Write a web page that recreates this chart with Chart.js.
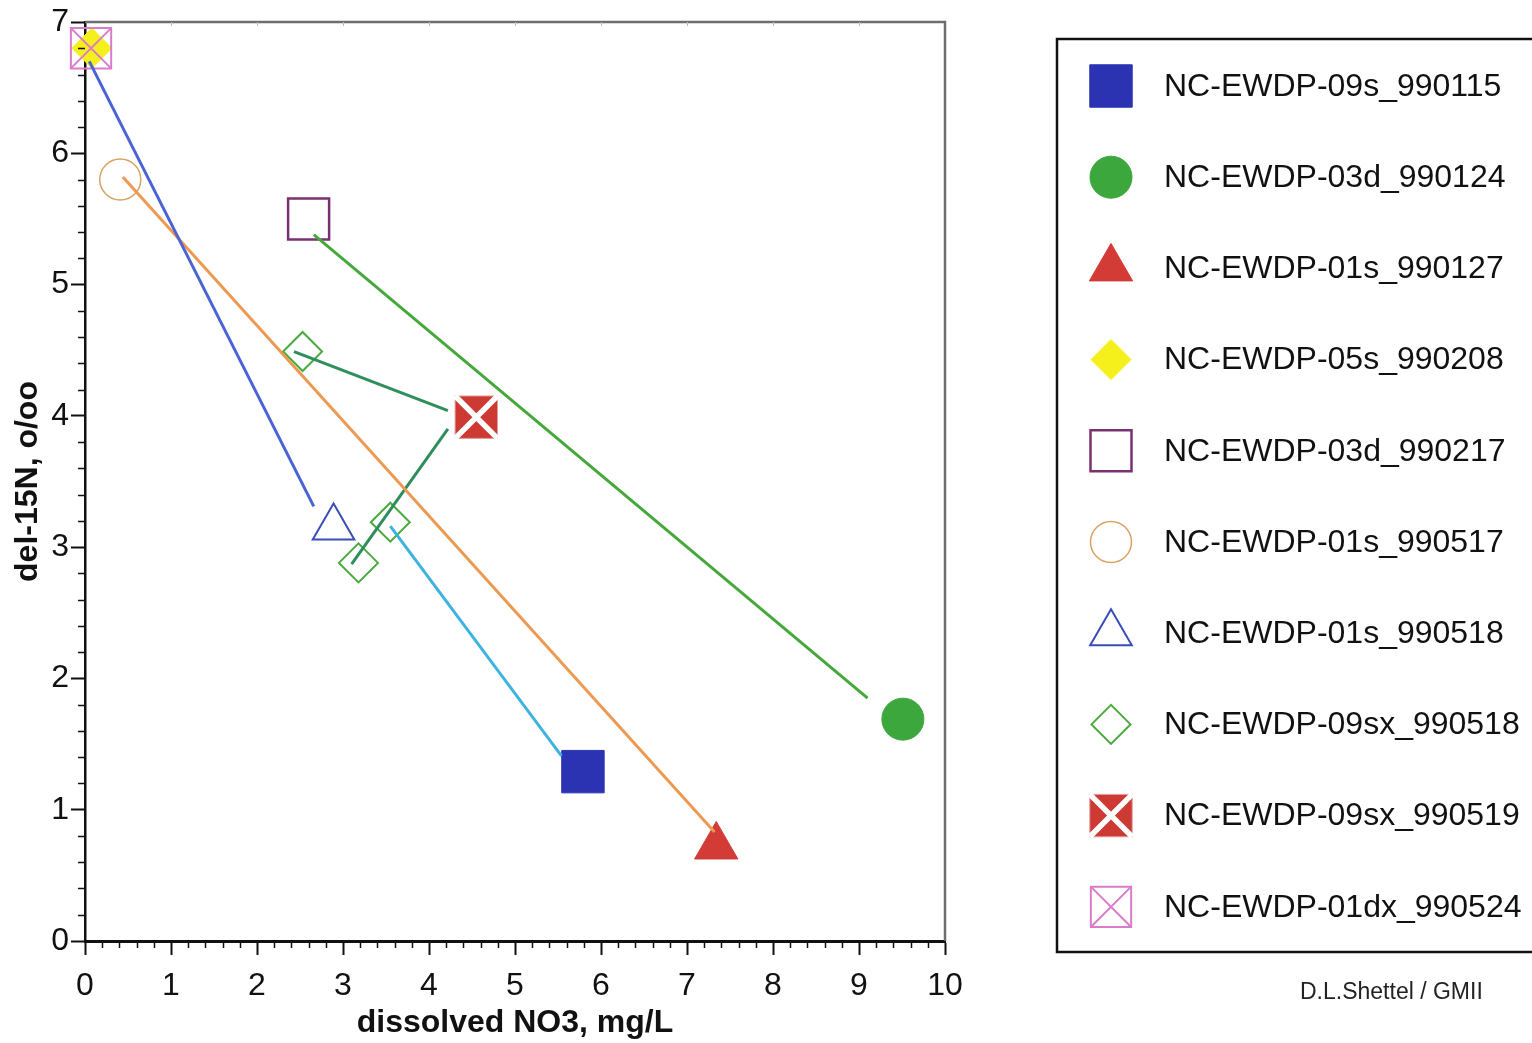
<!DOCTYPE html>
<html>
<head>
<meta charset="utf-8">
<script src="https://cdn.jsdelivr.net/npm/chart.js@4"></script>
<style>
  html, body { margin: 0; padding: 0; background: #fff; }
  #wrap { position: relative; width: 1532px; height: 1043px; }
</style>
</head>
<body>
<div id="wrap"><canvas id="no3Chart"></canvas></div>
<script>
// sample names, as in the legend
const seriesLabels = [
  'NC-EWDP-09s_990115',
  'NC-EWDP-03d_990124',
  'NC-EWDP-01s_990127',
  'NC-EWDP-05s_990208',
  'NC-EWDP-03d_990217',
  'NC-EWDP-01s_990517',
  'NC-EWDP-01s_990518',
  'NC-EWDP-09sx_990518',
  'NC-EWDP-09sx_990519',
  'NC-EWDP-01dx_990524'
];
// dissolved NO3, mg/L
const seriesNo3 = [[5.79], [9.51], [7.34], [0.08], [2.60], [0.41], [2.89], [2.53, 3.55, 3.18], [4.55], [0.07]];
// del-15N, o/oo
const seriesDel15N = [[1.29], [1.69], [0.72], [6.80], [5.50], [5.80], [3.15], [4.49, 3.19, 2.88], [3.99], [6.80]];

// connecting lines (start, end)
const lineNo3 = [[0.05, 2.66], [0.44, 7.32], [2.66, 9.10], [2.43, 4.22], [4.22, 3.10], [3.55, 5.54]];
const lineDel15N = [[6.70, 3.31], [5.82, 0.83], [5.38, 1.85], [4.49, 4.04], [3.90, 2.87], [3.16, 1.41]];
const lineColors = ['#4a63d6', '#ec9a52', '#45a83b', '#2f8e5c', '#2f8e5c', '#3fb3df'];

const markerStyles = [
  { style: 'rect', r: 30, fill: '#2c33b3', stroke: '#2c33b3', width: 1 },
  { style: 'circle', r: 21, fill: '#3ca73c', stroke: '#3ca73c', width: 1 },
  { style: 'triangle', r: 25, fill: '#d33b36', stroke: '#d33b36', width: 1 },
  { style: 'rectRot', r: 20, fill: '#f5f01c', stroke: '#f5f01c', width: 1, order: 3 },
  { style: 'rect', r: 29, fill: null, stroke: '#7a3170', width: 2.5 },
  { style: 'circle', r: 20.5, fill: null, stroke: '#d9a262', width: 1.5 },
  { style: 'triangle', r: 24, fill: null, stroke: '#3a4db5', width: 2 },
  { style: 'rectRot', r: 19.5, fill: null, stroke: '#4aaa3d', width: 2 },
  { style: 'rect', r: 30, fill: '#cc3a33', stroke: '#e2a09a', width: 1, cross: '#ffffff', crossWidth: 5.5 },
  { style: 'rect', r: 28.5, fill: null, stroke: '#d97ccb', width: 2, cross: '#d97ccb', crossWidth: 2 }
];

const FONT = '"Liberation Sans", Arial, Helvetica, sans-serif';
Chart.defaults.font.family = FONT;
Chart.defaults.color = '#111';

const datasets = [];
seriesLabels.forEach((label, i) => {
  const m = markerStyles[i];
  const pts = seriesNo3[i].map((x, k) => ({ x: x, y: seriesDel15N[i][k] }));
  datasets.push({
    label: label,
    data: pts,
    pointStyle: m.style,
    pointRadius: m.r,
    pointBackgroundColor: m.fill || 'rgba(0,0,0,0)',
    pointBorderColor: m.stroke,
    pointBorderWidth: m.width,
    clip: false,
    order: m.order || 2
  });
  if (m.cross) {
    datasets.push({
      label: label + ' x',
      data: pts,
      pointStyle: 'crossRot',
      pointRadius: m.r,
      pointBorderColor: m.cross,
      pointBorderWidth: m.crossWidth,
      clip: false,
      order: 1
    });
  }
});
lineNo3.forEach((xs, i) => {
  datasets.push({
    label: 'line ' + i,
    data: xs.map((x, k) => ({ x: x, y: lineDel15N[i][k] })),
    showLine: true,
    borderColor: lineColors[i],
    borderWidth: 3,
    pointRadius: 0,
    clip: false,
    order: 0
  });
});

function drawMarker(ctx, m, x, y) {
  ctx.fillStyle = m.fill || 'rgba(0,0,0,0)';
  ctx.strokeStyle = m.stroke;
  ctx.lineWidth = m.width;
  Chart.helpers.drawPoint(ctx, { pointStyle: m.style, radius: m.r, borderWidth: m.width, rotation: 0 }, x, y);
  if (m.cross) {
    ctx.strokeStyle = m.cross;
    ctx.lineWidth = m.crossWidth;
    Chart.helpers.drawPoint(ctx, { pointStyle: 'crossRot', radius: m.r, borderWidth: m.crossWidth, rotation: 0 }, x, y);
  }
}

const extras = {
  id: 'extras',
  afterDraw(chart) {
    const ctx = chart.ctx;
    const a = chart.chartArea;
    const xs = chart.scales.x;
    const ys = chart.scales.y;
    ctx.save();
    ctx.lineCap = 'butt';

    // minor ticks
    ctx.strokeStyle = '#111';
    ctx.lineWidth = 1.5;
    ctx.beginPath();
    for (let i = 1; i < 50; i++) {
      if (i % 5 === 0) continue;
      const px = Math.round(xs.getPixelForValue(i / 5)) + 0.5;
      ctx.moveTo(px, a.bottom);
      ctx.lineTo(px, a.bottom + 7);
    }
    for (let i = 1; i < 35; i++) {
      if (i % 5 === 0) continue;
      const py = Math.round(ys.getPixelForValue(i / 5)) + 0.5;
      ctx.moveTo(a.left, py);
      ctx.lineTo(a.left - 7, py);
    }
    ctx.stroke();

    // top and right frame
    ctx.strokeStyle = '#6e6e6e';
    ctx.lineWidth = 2.5;
    ctx.beginPath();
    ctx.moveTo(a.left, a.top);
    ctx.lineTo(a.right, a.top);
    ctx.lineTo(a.right, a.bottom);
    ctx.stroke();
    ctx.lineWidth = 1;
    ctx.strokeStyle = '#bdbdbd';
    ctx.beginPath();
    for (let v = 1; v < 10; v++) {
      const px = Math.round(xs.getPixelForValue(v)) + 0.5;
      ctx.moveTo(px, a.top);
      ctx.lineTo(px, a.top + 4);
    }
    ctx.stroke();

    // legend box
    ctx.strokeStyle = '#111';
    ctx.lineWidth = 2.5;
    ctx.strokeRect(1057, 39, 520, 913);
    ctx.font = '32px ' + FONT;
    ctx.textBaseline = 'middle';
    ctx.textAlign = 'left';
    seriesLabels.forEach((name, i) => {
      const y = 86 + i * 91.2;
      drawMarker(ctx, markerStyles[i], 1111, y);
      ctx.fillStyle = '#111';
      ctx.fillText(name, 1164, y + 1);
    });

    ctx.font = '23px ' + FONT;
    ctx.fillStyle = '#222';
    ctx.fillText('D.L.Shettel / GMII', 1300, 993);
    ctx.restore();
  }
};

new Chart(document.getElementById('no3Chart'), {
  type: 'scatter',
  data: { datasets: datasets },
  options: {
    responsive: true,
    maintainAspectRatio: false,
    animation: false,
    events: [],
    layout: { autoPadding: false, padding: { left: 0, top: 22, right: 587, bottom: 0 } },
    plugins: {
      legend: { display: false },
      tooltip: { enabled: false }
    },
    scales: {
      x: {
        type: 'linear',
        min: 0,
        max: 10,
        afterFit: (scale) => {
          scale.height = 102;
          scale.paddingLeft = 0;
          scale.paddingRight = 0;
        },
        ticks: { stepSize: 1, font: { size: 32 }, color: '#111', padding: 12, maxRotation: 0 },
        grid: { drawOnChartArea: false, tickLength: 14, tickColor: '#111', tickWidth: 2 },
        border: { display: true, color: '#111', width: 3 },
        title: {
          display: true,
          text: 'dissolved NO3, mg/L',
          font: { size: 32, weight: 'bold' },
          color: '#111',
          padding: { top: 0, bottom: 1 }
        }
      },
      y: {
        type: 'linear',
        min: 0,
        max: 7,
        afterFit: (scale) => {
          scale.width = 85;
          scale.paddingTop = 0;
          scale.paddingBottom = 0;
        },
        ticks: { stepSize: 1, font: { size: 32 }, color: '#111', padding: 2 },
        grid: { drawOnChartArea: false, tickLength: 14, tickColor: '#111', tickWidth: 2 },
        border: { display: true, color: '#111', width: 2.5 },
        title: {
          display: true,
          text: 'del-15N, o/oo',
          font: { size: 32, weight: 'bold' },
          color: '#111',
          padding: { top: 9, bottom: 0 }
        }
      }
    }
  },
  plugins: [extras]
});
</script>
</body>
</html>
